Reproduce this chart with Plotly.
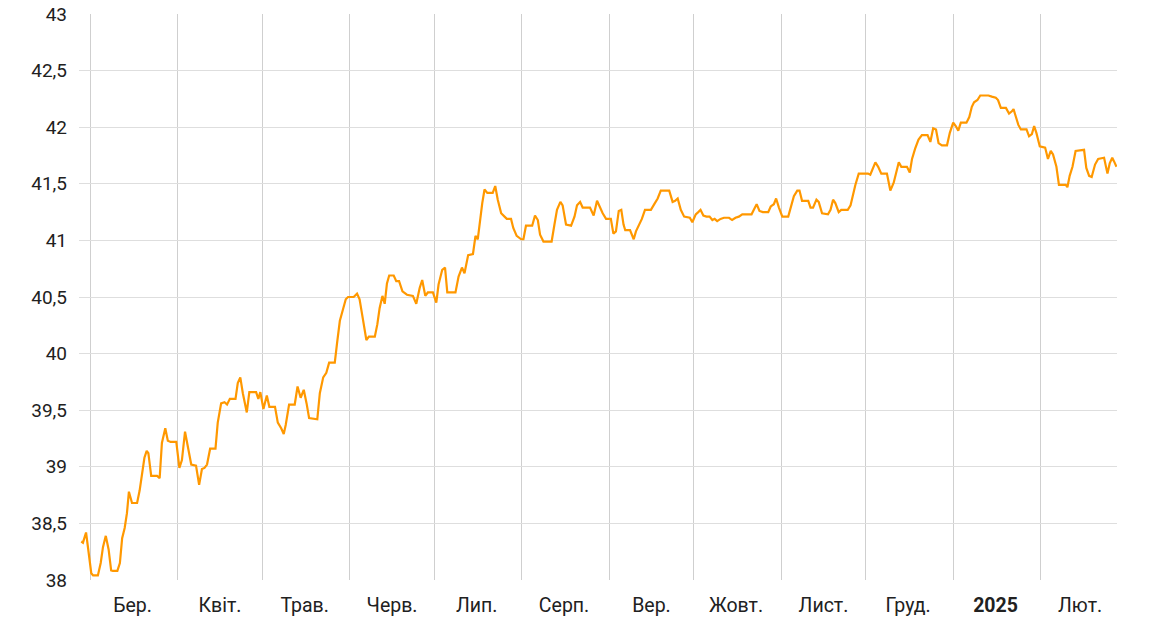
import pandas as pd
import plotly.graph_objects as go

# Day offsets from 2024-03-01 and exchange rate values
day_offsets = [
    -3.2, -2.6, -1.5, -0.8, 0.35, 1.0, 2.7, 3.7, 4.5, 5.5, 6.5, 7.4, 8.0, 9.6, 10.5, 11.3, 12.2, 13.0, 13.7, 14.8,
    16.6, 17.5, 18.3, 19.2, 20.0, 20.6, 21.6, 23.7, 24.6, 25.4, 26.6, 27.5, 28.5, 30.5, 31.6, 32.5, 33.6, 34.8, 35.8, 37.5,
    38.6, 39.6, 40.5, 41.4, 42.5, 44.4, 45.2, 46.4, 47.6, 48.5, 49.5, 51.5, 52.3, 53.2, 54.1, 55.5, 56.4, 58.8, 59.6, 60.3,
    61.4, 62.6, 63.5, 65.5, 66.5, 67.7, 68.6, 69.3, 70.5, 72.5, 73.5, 74.6, 75.7, 76.7, 77.6, 80.5, 81.4, 82.6, 83.7, 84.7,
    86.7, 87.5, 88.5, 89.6, 90.6, 91.4, 93.4, 94.6, 95.5, 96.7, 97.9, 98.8, 100.9, 101.8, 102.6, 103.6, 104.4, 105.2, 106.0, 107.6,
    108.5, 109.5, 110.7, 112.3, 114.4, 115.6, 116.8, 117.7, 118.8, 119.7, 121.5, 122.7, 123.5, 124.8, 125.8, 126.6, 129.5, 130.6, 131.8, 132.7,
    134.0, 135.7, 136.6, 137.4, 138.3, 139.0, 139.8, 140.8, 142.7, 143.6, 144.5, 145.7, 146.9, 147.7, 149.2, 150.0, 151.2, 152.8, 153.6, 154.5,
    156.7, 157.7, 158.7, 159.5, 160.7, 163.6, 164.6, 165.5, 166.7, 167.5, 168.7, 170.5, 171.7, 172.6, 173.7, 174.6, 177.2, 178.5, 179.7, 180.7,
    181.7, 182.9, 184.6, 185.5, 186.4, 187.4, 188.3, 189.1, 189.7, 191.4, 192.7, 193.5, 194.7, 195.6, 196.7, 198.8, 200.0, 201.2, 202.3, 205.3,
    206.5, 207.4, 208.3, 209.4, 210.6, 212.6, 213.5, 214.7, 215.6, 216.4, 217.4, 218.5, 219.6, 220.6, 221.4, 222.3, 223.5, 224.7, 226.5, 227.6,
    228.8, 230.0, 231.2, 234.5, 235.3, 236.3, 237.3, 238.5, 240.4, 241.3, 242.4, 243.2, 244.2, 245.4, 247.5, 248.3, 249.5, 250.7, 251.5, 252.4,
    254.6, 255.4, 256.3, 257.5, 258.3, 259.5, 261.6, 262.5, 263.4, 264.2, 265.4, 266.3, 268.6, 269.6, 270.4, 271.3, 272.5, 275.8, 276.6, 277.5,
    278.4, 279.4, 280.5, 282.5, 283.7, 284.9, 285.7, 286.7, 287.6, 289.6, 290.6, 291.4, 292.5, 293.7, 294.9, 296.9, 297.9, 298.9, 299.9, 300.8,
    302.0, 303.8, 304.8, 306.0, 306.9, 307.8, 308.7, 310.7, 311.7, 312.6, 313.4, 314.6, 315.6, 318.5, 319.7, 321.1, 321.9, 322.9, 324.7, 325.8,
    326.8, 327.4, 328.0, 329.1, 330.0, 332.0, 332.9, 333.9, 334.7, 335.5, 336.7, 338.6, 339.6, 340.6, 341.4, 342.6, 343.5, 345.9, 346.5, 347.3,
    348.3, 349.4, 352.4, 353.2, 354.2, 355.1, 356.3, 357.4, 359.5, 360.7, 361.5, 362.4, 363.0, 363.9,
]
rates = [
    38.34, 38.33, 38.42, 38.30, 38.06, 38.04, 38.04, 38.15, 38.29, 38.39, 38.27, 38.085, 38.08, 38.08, 38.15, 38.37, 38.46, 38.59, 38.78, 38.68,
    38.68, 38.79, 38.92, 39.08, 39.14, 39.12, 38.92, 38.92, 38.90, 39.21, 39.34, 39.23, 39.22, 39.22, 38.99, 39.06, 39.31, 39.16, 39.02, 39.01,
    38.84, 38.98, 38.99, 39.02, 39.16, 39.16, 39.39, 39.56, 39.57, 39.55, 39.60, 39.60, 39.74, 39.79, 39.65, 39.48, 39.66, 39.66, 39.60, 39.66,
    39.51, 39.63, 39.53, 39.53, 39.39, 39.34, 39.29, 39.37, 39.55, 39.55, 39.71, 39.61, 39.68, 39.56, 39.43, 39.42, 39.65, 39.79, 39.83, 39.92,
    39.92, 40.09, 40.29, 40.39, 40.48, 40.50, 40.50, 40.53, 40.48, 40.30, 40.12, 40.15, 40.15, 40.26, 40.40, 40.51, 40.44, 40.62, 40.69, 40.69,
    40.64, 40.64, 40.55, 40.52, 40.51, 40.44, 40.58, 40.65, 40.51, 40.54, 40.54, 40.45, 40.61, 40.74, 40.76, 40.54, 40.54, 40.68, 40.76, 40.71,
    40.87, 40.88, 41.04, 41.01, 41.21, 41.33, 41.45, 41.42, 41.42, 41.48, 41.36, 41.24, 41.21, 41.19, 41.19, 41.11, 41.04, 41.01, 41.01, 41.13,
    41.13, 41.22, 41.18, 41.05, 40.99, 40.99, 41.14, 41.27, 41.34, 41.31, 41.14, 41.13, 41.21, 41.31, 41.34, 41.29, 41.29, 41.22, 41.35, 41.29,
    41.24, 41.19, 41.19, 41.06, 41.08, 41.26, 41.27, 41.14, 41.09, 41.09, 41.01, 41.08, 41.14, 41.19, 41.27, 41.27, 41.32, 41.37, 41.44, 41.44,
    41.34, 41.35, 41.37, 41.27, 41.21, 41.20, 41.16, 41.23, 41.25, 41.27, 41.22, 41.21, 41.21, 41.18, 41.19, 41.17, 41.19, 41.20, 41.20, 41.18,
    41.20, 41.21, 41.23, 41.23, 41.27, 41.32, 41.26, 41.25, 41.25, 41.30, 41.32, 41.37, 41.29, 41.21, 41.21, 41.28, 41.39, 41.44, 41.44, 41.35,
    41.35, 41.29, 41.29, 41.36, 41.34, 41.24, 41.23, 41.27, 41.36, 41.33, 41.25, 41.27, 41.27, 41.31, 41.41, 41.49, 41.59, 41.59, 41.58, 41.63,
    41.69, 41.65, 41.59, 41.59, 41.44, 41.51, 41.60, 41.69, 41.65, 41.65, 41.60, 41.72, 41.81, 41.89, 41.93, 41.93, 41.87, 41.99, 41.98, 41.86,
    41.84, 41.84, 41.95, 42.04, 42.01, 41.97, 42.04, 42.04, 42.09, 42.18, 42.22, 42.24, 42.28, 42.28, 42.27, 42.26, 42.24, 42.17, 42.17, 42.12,
    42.14, 42.16, 42.11, 42.02, 41.98, 41.98, 41.92, 41.94, 42.01, 41.95, 41.83, 41.82, 41.72, 41.79, 41.76, 41.65, 41.49, 41.49, 41.47, 41.57,
    41.65, 41.79, 41.80, 41.64, 41.57, 41.56, 41.67, 41.72, 41.73, 41.59, 41.68, 41.73, 41.70, 41.65,
]

month_starts = ["2024-03-01", "2024-04-01", "2024-05-01", "2024-06-01", "2024-07-01", "2024-08-01",
                "2024-09-01", "2024-10-01", "2024-11-01", "2024-12-01", "2025-01-01", "2025-02-01"]
label_dates = ["2024-03-16", "2024-04-16", "2024-05-16", "2024-06-16", "2024-07-16", "2024-08-16",
               "2024-09-16", "2024-10-16", "2024-11-16", "2024-12-16", "2025-01-16", "2025-02-15"]
month_labels = ["Бер.", "Квіт.", "Трав.", "Черв.", "Лип.", "Серп.", "Вер.", "Жовт.", "Лист.", "Груд.",
                "<b>2025</b>", "Лют."]
y_ticks = [38, 38.5, 39, 39.5, 40, 40.5, 41, 41.5, 42, 42.5, 43]
y_tick_text = ["38", "38,5", "39", "39,5", "40", "40,5", "41", "41,5", "42", "42,5", "43"]

dates = pd.Timestamp("2024-03-01") + pd.to_timedelta(day_offsets, unit="D")

fig = go.Figure(go.Scatter(
    x=dates, y=rates, mode="lines",
    line=dict(color="#FF9800", width=2.2),
    hoverinfo="skip",
))

fig.update_layout(
    width=1153, height=637,
    margin=dict(l=79, r=36, t=14, b=57),
    paper_bgcolor="white", plot_bgcolor="white",
    showlegend=False,
    font=dict(family="Roboto", size=19, color="#212121"),
    xaxis=dict(
        range=["2024-02-26", "2025-02-28 02:00"],
        automargin=False,
        tickmode="array", tickvals=label_dates, ticktext=month_labels,
        showgrid=False, zeroline=False, showline=False, ticks="",
        ticklabelstandoff=11,
        minor=dict(tickmode="array", tickvals=month_starts, showgrid=True,
                   gridcolor="#cfcfcf", gridwidth=1, ticks=""),
        tickfont=dict(size=19.5, color="#212121"),
    ),
    yaxis=dict(
        range=[38, 43],
        automargin=False,
        tickmode="array", tickvals=y_ticks, ticktext=y_tick_text,
        showgrid=True, gridcolor="#dedede", gridwidth=1.2,
        zeroline=False, showline=False, ticks="",
        ticklabelstandoff=11,
        ticklabeloverflow="allow",
        tickfont=dict(size=19, color="#212121"),
    ),
)

fig.write_html(
    "out.html",
    config={"displayModeBar": False},
    post_script="document.body.style.margin='0';document.body.style.overflow='hidden';",
)
